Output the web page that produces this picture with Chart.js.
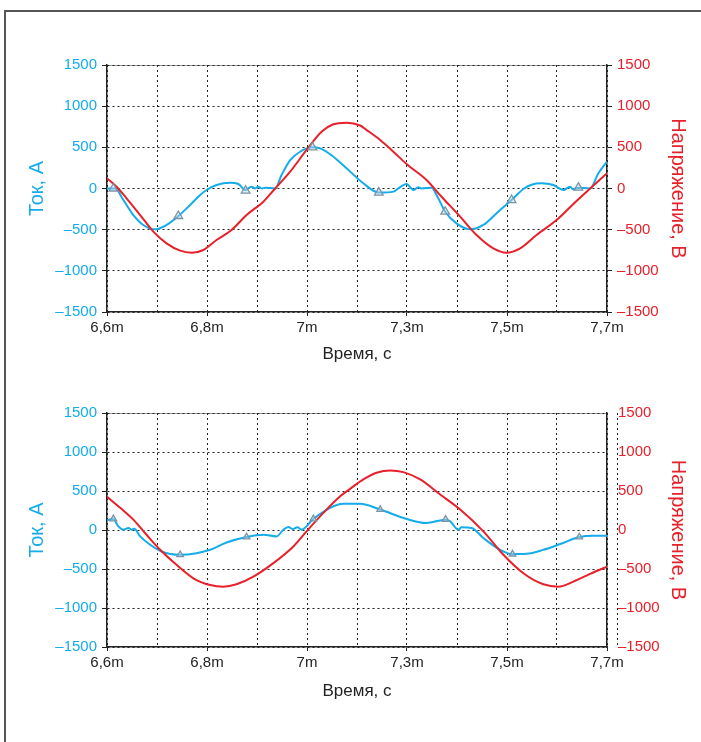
<!DOCTYPE html>
<html>
<head>
<meta charset="utf-8">
<script src="https://cdn.jsdelivr.net/npm/chart.js@4.4.1/dist/chart.umd.min.js"></script>
<style>
  html, body { margin: 0; padding: 0; background: #fff; }
  #page { position: relative; width: 701px; height: 742px; overflow: hidden; }
  #frame { position: absolute; left: 4px; top: 10px; width: 720px; height: 760px;
           border-top: 2px solid #555; border-left: 2px solid #555; }
  canvas { position: absolute; left: 0; }
</style>
</head>
<body>
<div id="page">
  <div id="frame"></div>
  <canvas id="top" width="701" height="371" style="top:0"></canvas>
  <canvas id="bottom" width="701" height="371" style="top:371px"></canvas>
</div>
<script>
// axis ticks
const xTicks = [6.6, 6.71, 6.82, 6.93, 7.04, 7.15, 7.26, 7.37, 7.48, 7.59, 7.7];
const xTickLabels = ['6,6m', '', '6,8m', '', '7m', '', '7,3m', '', '7,5m', '', '7,7m'];
const yTicks = [-1500, -1000, -500, 0, 500, 1000, 1500];

// top chart: current (A)
const topCurT = [6.600, 6.618, 6.636, 6.658, 6.680, 6.706, 6.731, 6.757, 6.783, 6.805, 6.819, 6.841,
  6.871, 6.889, 6.904, 6.918, 6.926, 6.933, 6.940, 6.948, 6.970, 6.984, 7.003, 7.025, 7.050, 7.069,
  7.098, 7.127, 7.135, 7.164, 7.198, 7.230, 7.248, 7.259, 7.274, 7.285, 7.292, 7.314, 7.327, 7.344,
  7.369, 7.399, 7.428, 7.457, 7.490, 7.516, 7.534, 7.556, 7.582, 7.604, 7.619, 7.625, 7.637, 7.663,
  7.681, 7.700];
const topCurV = [0, 0, -140, -322, -443, -496, -443, -334, -200, -79, -18, 42,
  70, 55, -18, 22, 0, 22, 0, 10, 0, 164, 346, 447, 500, 488,
  386, 245, 205, 63, -50, -38, 30, 55, -18, 15, 0, 10, -100, -282,
  -423, -496, -443, -301, -140, -6, 46, 63, 42, -18, 22, -10, 10, 0,
  185, 326];
// top chart: voltage (V)
const topVolT = [6.600, 6.621, 6.643, 6.673, 6.702, 6.731, 6.761, 6.786, 6.812, 6.841, 6.874, 6.907,
  6.944, 6.970, 7.003, 7.039, 7.072, 7.098, 7.127, 7.157, 7.170, 7.201, 7.230, 7.259, 7.303, 7.336,
  7.377, 7.413, 7.450, 7.479, 7.509, 7.545, 7.589, 7.626, 7.663, 7.700];
const topVolV = [124, 22, -119, -322, -524, -666, -755, -780, -747, -625, -504, -322,
  -160, 0, 204, 468, 690, 780, 800, 765, 715, 589, 447, 298, 103, -100,
  -342, -565, -727, -780, -727, -565, -383, -188, 0, 185];
// top chart: markers on current
const topMarkT = [6.614, 6.757, 6.905, 7.052, 7.198, 7.344, 7.490, 7.637];
const topMarkV = [0, -334, -27, 500, -50, -282, -140, 10];

// bottom chart: current (A)
const botCurT = [6.600, 6.614, 6.625, 6.636, 6.647, 6.654, 6.660, 6.673, 6.695, 6.720, 6.761, 6.797,
  6.827, 6.863, 6.907, 6.944, 6.973, 6.988, 6.999, 7.009, 7.019, 7.028, 7.054, 7.091, 7.120, 7.157,
  7.201, 7.259, 7.303, 7.344, 7.355, 7.373, 7.380, 7.402, 7.428, 7.465, 7.492, 7.523, 7.560, 7.597,
  7.639, 7.670, 7.700];
const botCurV = [124, 142, 46, 4, 26, 4, 17, -82, -189, -275, -318, -297,
  -254, -160, -90, -61, -82, 4, 39, 13, 34, 4, 142, 284, 335, 335,
  262, 142, 90, 133, 111, 4, 34, 26, -103, -254, -309, -305, -254, -180,
  -90, -73, -73];
// bottom chart: voltage (V)
const botVolT = [6.600, 6.629, 6.658, 6.687, 6.717, 6.753, 6.790, 6.827, 6.856, 6.885, 6.922, 6.966,
  7.010, 7.039, 7.076, 7.113, 7.135, 7.164, 7.193, 7.223, 7.252, 7.289, 7.333, 7.377, 7.428, 7.472,
  7.516, 7.560, 7.593, 7.626, 7.663, 7.700];
const botVolV = [425, 284, 133, -61, -254, -447, -619, -705, -727, -696, -598, -425,
  -211, -18, 219, 433, 528, 648, 734, 764, 742, 648, 455, 262, -18, -318,
  -554, -696, -727, -662, -563, -469];
const botMarkT = [6.614, 6.761, 6.907, 7.054, 7.201, 7.345, 7.492, 7.639];
const botMarkV = [142, -318, -90, 142, 262, 135, -309, -90];

const CYAN = '#14acea';
const RED = '#e8202a';
const INK = '#222';
const FONT = "'Liberation Sans', Arial, sans-serif";

const pts = (t, v) => t.map((x, i) => ({x: x, y: v[i]}));
const fmt = v => v < 0 ? '\u2013' + Math.abs(v) : String(v);

// light top edge of plot and the detached right axis line
const framePlugin = {
  id: 'frame',
  beforeDraw(chart) {
    const {ctx, chartArea: a} = chart;
    ctx.save();
    ctx.strokeStyle = '#9a9a9a';
    ctx.lineWidth = 1;
    ctx.beginPath();
    ctx.moveTo(a.left, a.top + 0.5);
    ctx.lineTo(a.right, a.top + 0.5);
    ctx.stroke();
    ctx.restore();
  },
  afterDraw(chart, args, opts) {
    if (!opts.offsetAxis) return;
    const {ctx, chartArea: a} = chart;
    const x = Math.round(a.right + 10) + 0.5;
    ctx.save();
    ctx.strokeStyle = INK;
    ctx.lineWidth = 1;
    ctx.setLineDash([2, 3]);
    ctx.beginPath();
    ctx.moveTo(x, a.top);
    ctx.lineTo(x, a.bottom);
    ctx.stroke();
    ctx.restore();
  }
};

function makeChart(id, o) {
  return new Chart(document.getElementById(id), {
    type: 'line',
    data: {
      datasets: [
        {
          data: pts(o.curT, o.curV), yAxisID: 'yA', borderColor: CYAN, borderWidth: 2,
          pointRadius: 0, cubicInterpolationMode: 'monotone', order: 3
        },
        {
          data: pts(o.volT, o.volV), yAxisID: 'yV', borderColor: RED, borderWidth: 2,
          pointRadius: 0, cubicInterpolationMode: 'monotone', order: 2
        },
        {
          data: pts(o.markT, o.markV), yAxisID: 'yA', showLine: false,
          pointStyle: 'triangle', pointRadius: o.markR, borderWidth: 1.3,
          pointBorderColor: '#7a93a8', pointBackgroundColor: 'rgba(200,214,224,0.45)', order: 1
        }
      ]
    },
    options: {
      responsive: false,
      animation: false,
      devicePixelRatio: 1,
      layout: {padding: {top: o.padTop, left: 0, right: 0, bottom: 0}},
      plugins: {legend: {display: false}, tooltip: {enabled: false}, frame: {offsetAxis: o.offsetAxis}},
      scales: {
        x: {
          type: 'linear', min: 6.6, max: 7.7,
          afterBuildTicks: s => { s.ticks = xTicks.map(v => ({value: v})); },
          afterFit: s => { s.height = o.xHeight; },
          ticks: {
            autoSkip: false, maxRotation: 0, padding: 3, color: INK,
            font: {family: FONT, size: 15},
            callback: (v, i) => xTickLabels[i]
          },
          grid: {
            color: INK, lineWidth: 1, tickLength: 4, tickBorderDash: [],
            tickColor: c => c.index % 2 ? 'rgba(0,0,0,0)' : INK
          },
          border: {color: INK, width: 1.5, dash: [2, 3]},
          title: {
            display: true, text: 'Время, с', color: INK,
            font: {family: FONT, size: 17}, padding: {top: 0, bottom: o.xTitlePad}
          }
        },
        yA: {
          position: 'left', min: -1500, max: 1500,
          afterBuildTicks: s => { s.ticks = yTicks.map(v => ({value: v})); },
          afterFit: s => { s.width = 107; },
          ticks: {color: CYAN, padding: 5, font: {family: FONT, size: 15}, callback: fmt},
          grid: {color: INK, lineWidth: 1, tickLength: 5, tickColor: INK, tickBorderDash: []},
          border: {color: INK, width: 1.5, dash: [2, 3]},
          title: {
            display: true, text: 'Ток, А', color: CYAN,
            font: {family: FONT, size: 20}, padding: {top: 25, bottom: 0}
          }
        },
        yV: {
          position: 'right', min: -1500, max: 1500,
          afterBuildTicks: s => { s.ticks = yTicks.map(v => ({value: v})); },
          afterFit: s => { s.width = 94; },
          ticks: {color: RED, padding: o.offsetAxis ? 11 : 5, font: {family: FONT, size: 15}, callback: fmt},
          grid: {
            drawOnChartArea: false, drawTicks: !o.offsetAxis, tickLength: 5,
            tickColor: INK, tickBorderDash: []
          },
          border: {color: INK, width: 1.5},
          title: {
            display: true, text: 'Напряжение, В', color: RED,
            font: {family: FONT, size: 20}, padding: {top: 11, bottom: 0}
          }
        }
      }
    },
    plugins: [framePlugin]
  });
}

makeChart('top', {
  curT: topCurT, curV: topCurV, volT: topVolT, volV: topVolV,
  markT: topMarkT, markV: topMarkV, markR: 5,
  padTop: 65, xHeight: 59, xTitlePad: 6, offsetAxis: false
});
makeChart('bottom', {
  curT: botCurT, curV: botCurV, volT: botVolT, volV: botVolV,
  markT: botMarkT, markV: botMarkV, markR: 3.8,
  padTop: 42, xHeight: 95, xTitlePad: 40, offsetAxis: true
});
</script>
</body>
</html>
